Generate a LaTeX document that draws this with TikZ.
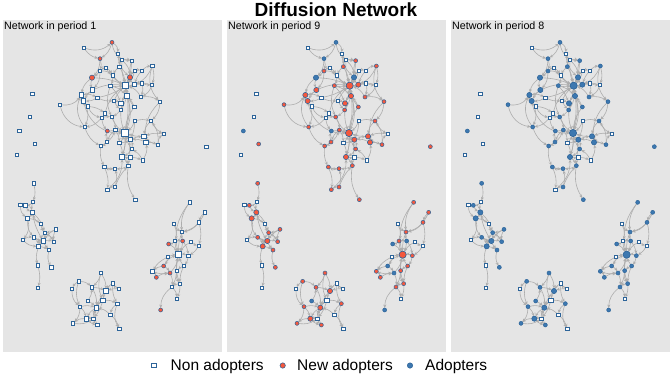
\documentclass[tikz,border=0pt]{standalone}
\usepackage{fontspec}
\setmainfont{Liberation Sans}
\usetikzlibrary{arrows.meta}
\pgfdeclarelayer{back}\pgfdeclarelayer{bg}\pgfsetlayers{back,bg,main}
\definecolor{panelgray}{HTML}{E5E5E5}
\definecolor{edgegray}{HTML}{ADADAD}
\definecolor{nodeblue}{HTML}{3D78B0}
\definecolor{nodeborder}{HTML}{2D6499}
\definecolor{newred}{HTML}{F5583D}
\tikzset{
  nd/.style={inner sep=0pt,outer sep=0pt,draw=nodeborder},
  ndn1/.style={nd,rectangle,fill=white,minimum size=3.3pt,line width=0.75pt},
  ndn2/.style={nd,rectangle,fill=white,minimum size=4.5pt,line width=0.85pt},
  ndn3/.style={nd,rectangle,fill=white,minimum size=6.2pt,line width=0.95pt},
  ndr1/.style={nd,circle,fill=newred,minimum size=4pt,line width=0.5pt},
  ndr2/.style={nd,circle,fill=newred,minimum size=5.2pt,line width=0.55pt},
  ndr3/.style={nd,circle,fill=newred,minimum size=7.2pt,line width=0.65pt},
  ndb1/.style={nd,circle,fill=nodeblue,minimum size=4pt,line width=0.5pt},
  ndb2/.style={nd,circle,fill=nodeblue,minimum size=5.2pt,line width=0.55pt},
  ndb3/.style={nd,circle,fill=nodeblue,minimum size=7.2pt,line width=0.65pt},
  edge/.style={draw=edgegray,line width=0.6pt,-{Stealth[length=3.4pt,width=3pt]}},
  panel/.style={fill=panelgray,draw=none},
  plabel/.style={anchor=base west,inner sep=0pt,font=\fontsize{10.7}{12}\selectfont},
  legtext/.style={anchor=base west,inner sep=0pt,font=\fontsize{15.5}{18}\selectfont},
}
\def\nodelist{%
1/251/143/1/n/n/n,2/336/127/1/r/b/b,3/353/161/1/n/n/n,4/300/176/1/r/b/b,5/366/180/1/n/n/n,
6/395/182/1/n/r/b,7/317/203/1/n/n/n,8/358/200/1/n/r/b,9/300/213/1/n/r/b,10/404/212/1/n/n/n,
11/425/212/1/n/n/n,12/457/198/1/n/r/b,13/338/226/1/n/n/n,14/276/233/2/r/b/b,15/390/232/2/r/b/b,
16/377/257/3/n/r/b,17/403/254/2/n/r/b,18/426/250/1/n/n/n,19/456/255/1/n/n/n,20/331/257/1/n/r/b,
21/277/270/2/n/r/b,22/244/285/2/n/r/b,23/381/288/2/n/r/b,24/292/293/1/n/n/n,25/423/291/1/n/r/b,
26/251/303/2/n/r/b,27/342/302/1/n/n/n,28/363/310/2/n/r/b,29/480/305/1/n/r/b,30/180/314/1/n/r/b,
31/263/319/1/n/n/n,32/403/321/1/n/r/b,33/362/330/1/n/r/b,34/315/340/1/n/n/n,35/305/353/1/n/n/n,
36/335/351/1/n/r/b,37/404/363/1/n/n/n,38/453/363/1/n/r/b,39/254/381/1/n/r/b,40/322/393/1/r/b/b,
41/346/390/1/n/r/b,42/375/399/3/n/r/b,43/391/419/2/n/r/b,44/432/409/2/n/r/b,45/491/402/1/n/n/n,
46/438/427/2/n/r/b,47/474/434/1/n/r/b,48/358/429/1/n/n/n,49/321/426/1/n/r/b,50/302/438/1/n/r/b,
51/395/447/1/n/r/b,52/366/471/2/n/r/b,53/391/472/1/n/n/n,54/428/481/1/n/n/n,55/385/497/1/n/r/b,
56/313/501/1/n/r/b,57/345/506/1/n/r/b,58/322/569/1/n/r/n,59/345/561/1/n/r/b,60/406/599/1/n/r/b,
61/97/282/1/n/n/n,62/90/351/1/n/n/n,63/58/393/1/n/b/b,64/104/432/1/n/r/n,65/51/464/1/n/n/n,
66/619/440/1/n/r/b,67/101/550/1/n/r/b,
69/99/606/1/n/n/n,70/61/615/1/n/n/n,71/76/616/1/n/r/b,72/97/637/2/n/r/b,73/83/655/2/n/r/b,
74/123/672/1/n/n/n,75/168/688/1/n/r/b,76/134/698/1/n/r/b,77/101/712/1/n/r/b,78/130/723/2/n/r/b,
79/68/720/1/n/n/n,80/161/725/1/n/r/b,81/116/739/2/n/r/b,82/147/750/1/n/r/b,83/113/796/1/n/n/n,
84/154/802/1/n/r/b,85/114/863/1/n/n/n,
86/303/819/1/n/r/b,87/236/844/1/n/r/b,88/216/866/1/n/n/n,89/276/862/1/n/r/b,90/338/850/1/n/n/n,
91/356/866/1/n/n/n,92/318/873/2/n/r/b,93/309/901/2/n/n/n,94/263/903/1/n/b/b,95/352/911/1/n/r/b,
96/240/920/1/n/r/b,97/289/923/2/n/r/b,98/331/944/1/n/n/n,99/259/956/2/n/r/b,100/280/956/1/n/n/n,
101/219/970/1/n/r/b,102/292/975/1/n/r/b,103/358/987/1/n/n/n,
104/569/607/1/n/r/b,105/614/637/1/n/r/b,106/597/667/1/n/r/b,107/521/672/1/n/n/n,108/546/696/1/n/r/b,
109/506/732/1/r/b/b,110/525/723/1/n/r/n,111/548/723/1/r/b/b,112/572/726/1/n/n/n,113/596/737/1/n/n/n,
114/536/764/3/n/r/b,115/503/771/1/n/n/n,116/565/767/1/n/r/b,117/491/798/1/r/b/b,118/551/798/1/n/r/b,
119/457/814/1/n/r/b,120/510/819/1/r/b/b,121/530/812/1/n/r/b,122/469/832/1/r/r/b,123/539/851/1/n/r/b,
124/516/861/1/n/r/b,125/530/896/1/n/n/n,126/482/930/1/r/b/b}
\def\edgelist{%
1/4/-20,2/4/20,2/6/-40,3/8/10,3/15/-20,4/9/15,4/14/20,5/16/-10,6/16/10,7/16/-15,8/16/10,9/21/20,
10/16/15,11/17/-10,12/17/20,13/16/-10,14/16/10,14/21/-15,15/16/10,15/17/-15,17/18/10,18/19/-10,
19/25/20,20/16/-10,21/22/15,22/26/-20,30/22/-30,23/16/10,23/28/-15,24/26/15,24/16/-10,25/29/20,
26/31/-20,27/28/10,28/16/-10,28/33/15,29/38/20,31/35/-25,32/16/15,32/23/-10,33/42/-10,34/16/20,
35/36/10,36/42/-15,37/42/15,38/44/-20,39/22/30,39/50/-20,40/42/10,41/42/-10,43/42/15,44/46/20,
45/44/-15,46/47/10,47/45/25,48/42/-10,49/50/15,50/56/-15,51/42/10,51/43/-20,52/42/-10,52/55/15,
53/43/10,54/51/-15,55/60/-20,56/58/15,58/59/20,59/57/-15,17/16/10,25/16/-20,29/46/-25,13/20/15,
7/9/-10,10/11/15,35/39/20,33/36/10,41/49/-15,20/36/-20,16/42/10,42/16/-15,23/42/20,34/35/10,
37/38/15,26/39/25,12/29/-30,44/42/10,47/38/-20,48/52/15,42/52/10,57/56/20,53/55/-10,
2/3/30,1/2/-30,5/6/15,8/13/-10,9/14/10,7/13/15,10/15/-10,11/12/20,18/25/15,19/17/-15,20/23/15,
21/26/-10,22/24/20,24/27/-15,27/16/10,27/33/-10,31/34/15,30/39/-35,35/40/-15,36/41/15,38/45/-15,
43/44/10,46/43/-15,47/44/15,48/43/-10,49/40/15,50/41/-20,51/52/15,52/53/-10,53/54/10,54/46/-20,
56/57/-10,55/57/15,58/52/-25,59/55/10,26/42/-40,12/19/15,6/15/-10,9/13/20,14/22/-20,
5/15/20,3/5/-15,20/28/10,21/16/15,32/42/-15,37/43/10,41/48/15,33/16/-20,
67/69/15,69/72/-15,70/71/10,71/72/-20,72/73/15,73/77/-20,73/79/25,74/76/-15,74/72/20,75/78/-15,
76/78/10,77/78/-10,78/80/15,78/81/-15,79/77/20,81/82/10,81/83/-15,82/84/-20,83/85/15,80/76/-15,
77/81/20,72/78/-10,75/76/10,69/71/20,70/73/-25,73/74/15,76/80/15,76/81/-10,77/82/15,79/81/-20,
72/76/15,75/80/-15,
86/93/-20,86/89/15,87/88/-15,87/89/20,88/96/-25,89/92/10,90/92/-15,91/90/15,92/93/-10,93/95/15,
93/97/-15,94/97/10,95/98/-20,96/101/20,97/99/-15,98/103/15,99/100/10,99/101/-20,100/102/-15,
102/97/20,94/89/-15,96/99/15,91/92/-10,93/100/10,86/92/15,87/96/-20,89/97/15,90/95/-15,92/97/-10,
96/97/15,99/102/-15,100/97/15,101/100/-20,95/103/-25,98/97/-15,
104/114/-25,105/106/-15,106/108/20,107/108/-15,107/110/20,108/114/-10,109/114/15,110/114/-10,
111/114/10,112/114/-15,113/116/15,115/114/10,116/114/-15,117/114/20,117/119/-15,118/114/10,
119/122/20,120/114/-15,121/114/10,121/123/-20,122/120/15,123/124/-15,124/125/20,124/126/-25,
115/117/15,109/110/-15,105/108/25,118/123/-10,120/124/15,104/108/-20,106/113/15,108/111/-10,
111/116/15,112/113/-10,115/119/-15,117/120/15,118/121/-10,119/120/-15,121/124/10,123/125/15,
114/123/-15,110/111/10,116/118/15}
\begin{document}
\begin{tikzpicture}[x=1pt,y=-1pt]
\useasboundingbox (0,0) rectangle (672,384);
\node[anchor=base,inner sep=0pt,font=\fontsize{19}{22}\selectfont\bfseries] (title) at (336,16) {Diffusion Network};
\foreach \pan/\per in {1/1,2/9,3/8}{
  \begin{scope}[xshift={(\pan-1)*224pt}]
    \begin{pgfonlayer}{back}
      \fill[panel] (3,20) rectangle (222,352);
    \end{pgfonlayer}
    \node[plabel] (lab\pan) at (4,29.5) {Network in period \per};
    \foreach \id/\x/\y/\sz/\sa/\sb/\sc in \nodelist {
      \edef\st{\ifcase\pan\or\sa\or\sb\or\sc\fi}
      \edef\tmp{\noexpand\node[nd\st\sz] (p\pan-\id) at ({\x/3},{\y/3}) {};}
      \tmp
    }
    \begin{pgfonlayer}{bg}
      \foreach \a/\b/\bd in \edgelist {
        \draw[edge] (p\pan-\a) to[bend left=\bd] (p\pan-\b);
      }
    \end{pgfonlayer}
  \end{scope}
}
\node[ndn2,minimum size=4.6pt] (legn) at (154,365.5) {};
\node[legtext] (legnt) at (170.5,370.7) {Non adopters};
\node[ndr2,minimum size=5.4pt] (legr) at (282.7,365.5) {};
\node[legtext] (legrt) at (297,370.7) {New adopters};
\node[ndb2,minimum size=5.4pt] (legb) at (410,365.5) {};
\node[legtext] (legbt) at (425,370.7) {Adopters};
\end{tikzpicture}
\end{document}
